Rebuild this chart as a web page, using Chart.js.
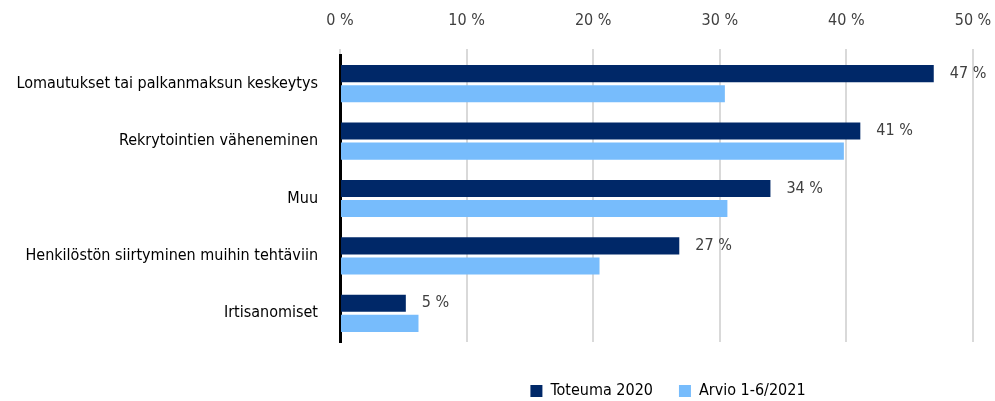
<!DOCTYPE html>
<html>
<head>
<meta charset="utf-8">
<script src="https://cdn.jsdelivr.net/npm/chart.js@4"></script>
<style>
  html, body { margin: 0; padding: 0; background: #fff; }
  #wrap { width: 995px; height: 401px; }
</style>
</head>
<body>
<div id="wrap"><canvas id="myChart"></canvas></div>
<script>
var categories = ['Lomautukset tai palkanmaksun keskeytys', 'Rekrytointien väheneminen', 'Muu',
                  'Henkilöstön siirtyminen muihin tehtäviin', 'Irtisanomiset'];
var toteuma = [46.9, 41.1, 34.0, 26.8, 5.2];
var arvio = [30.4, 39.8, 30.6, 20.5, 6.2];
var seriesNames = ['Toteuma 2020', 'Arvio 1-6/2021'];

var FONT = '"DejaVu Sans Condensed", "Liberation Sans Narrow", sans-serif';

// value labels next to the dark bars
var valueLabels = {
    id: 'valueLabels',
    afterDatasetsDraw: function(chart) {
        var ctx = chart.ctx;
        var meta = chart.getDatasetMeta(0);
        ctx.save();
        ctx.font = '16px ' + FONT;
        ctx.fillStyle = '#404040';
        ctx.textAlign = 'left';
        ctx.textBaseline = 'middle';
        meta.data.forEach(function(bar, i) {
            ctx.fillText(Math.round(toteuma[i]) + ' %', bar.x + 16, bar.y);
        });
        ctx.restore();
    }
};

// move the legend down and centre it under the plot
var legendShift = {
    id: 'legendShift',
    afterLayout: function(chart) {
        var l = chart.legend;
        var dx = 668 - (l.left + l.right) / 2;
        l.left += dx; l.right += dx;
        l.top += 15; l.bottom += 15;
    }
};

var ctx = document.getElementById('myChart').getContext('2d');
var chart = new Chart(ctx, {
    type: 'bar',
    data: {
        labels: categories,
        datasets: [{
            label: seriesNames[0],
            backgroundColor: '#002868',
            data: toteuma,
            barPercentage: 0.85,
            categoryPercentage: 0.7
        }, {
            label: seriesNames[1],
            backgroundColor: '#77bcfc',
            data: arvio,
            barPercentage: 0.85,
            categoryPercentage: 0.7
        }]
    },
    options: {
        indexAxis: 'y',
        responsive: true,
        maintainAspectRatio: false,
        animation: false,
        layout: { padding: { left: 0, right: 0, top: 0, bottom: 7 } },
        scales: {
            x: {
                position: 'top',
                min: 0,
                max: 50,
                ticks: {
                    stepSize: 10,
                    color: '#404040',
                    font: { family: FONT, size: 16 },
                    padding: 19,
                    callback: function(v) { return v + ' %'; }
                },
                grid: { color: '#d9d9d9', lineWidth: 2, tickLength: 6 },
                border: { display: false },
                afterFit: function(s) { s.height = 55; s.paddingLeft = 0; s.paddingRight = 22; }
            },
            y: {
                ticks: {
                    color: '#000',
                    font: { family: FONT, size: 16 },
                    padding: 22
                },
                grid: { display: false, drawTicks: false },
                border: { color: '#000', width: 3 },
                afterFit: function(s) { s.width = 340; }
            }
        },
        plugins: {
            legend: {
                position: 'bottom',
                labels: {
                    boxWidth: 12,
                    boxHeight: 12,
                    padding: 26,
                    color: '#000',
                    font: { family: FONT, size: 16 }
                }
            },
            tooltip: { enabled: false }
        }
    },
    plugins: [valueLabels, legendShift]
});
</script>
</body>
</html>
